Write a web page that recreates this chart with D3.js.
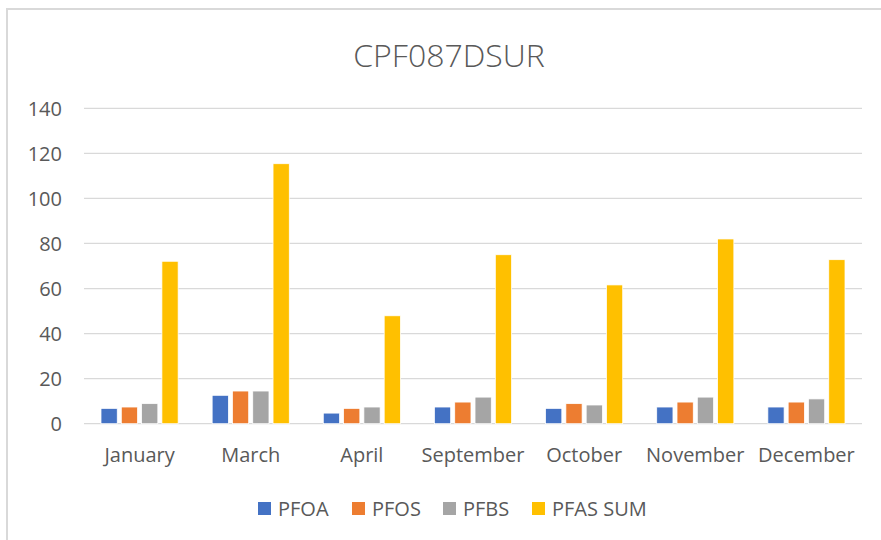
<!DOCTYPE html>
<html>
<head>
<meta charset="utf-8">
<script src="https://cdn.jsdelivr.net/npm/d3@7"></script>
<style>
  html, body { margin: 0; padding: 0; background: #fff; }
  svg { display: block; }
  text { font-family: "Open Sans", "Noto Sans", sans-serif; fill: #595959; }
</style>
</head>
<body>
<script>
const title = "CPF087DSUR";
const categories = ["January", "March", "April", "September", "October", "November", "December"];
const seriesNames = ["PFOA", "PFOS", "PFBS", "PFAS SUM"];
const PFOA = [6.8, 12.6, 4.7, 7.4, 6.8, 7.4, 7.4];
const PFOS = [7.4, 14.5, 6.8, 9.6, 8.9, 9.6, 9.6];
const PFBS = [8.9, 14.5, 7.4, 11.8, 8.3, 11.8, 11.0];
const PFAS_SUM = [72.1, 115.4, 47.9, 75.0, 61.6, 82.0, 72.8];
const yTicks = [0, 20, 40, 60, 80, 100, 120, 140];
const colors = ["#4472C4", "#ED7D31", "#A5A5A5", "#FFC000"];

const seriesValues = [PFOA, PFOS, PFBS, PFAS_SUM];
const W = 881, H = 540;
const plot = { left: 84, right: 862, top: 108.3, bottom: 423.7 };

const svg = d3.select("body").append("svg").attr("width", W).attr("height", H);

// chart border
svg.append("path")
  .attr("d", `M7,${H} L7,9 L${W},9`)
  .attr("fill", "none").attr("stroke", "#d9d9d9").attr("stroke-width", 2);

svg.append("text").attr("x", 449).attr("y", 67)
  .attr("text-anchor", "middle").attr("font-size", 32).attr("font-weight", 300)
  .text(title);

const x0 = d3.scaleBand().domain(categories).range([plot.left, plot.right])
  .paddingInner(0.306).paddingOuter(0.153);
const x1 = d3.scaleBand().domain(seriesNames).range([0, x0.bandwidth()]).paddingInner(0.2);
const y = d3.scaleLinear().domain([0, 140]).range([plot.bottom, plot.top]);

// grid
svg.append("g").selectAll("line").data(yTicks).join("line")
  .attr("x1", plot.left).attr("x2", plot.right)
  .attr("y1", d => y(d)).attr("y2", d => y(d))
  .attr("stroke", "#d9d9d9").attr("stroke-width", 1.3);

// y labels
svg.append("g").selectAll("text").data(yTicks).join("text")
  .attr("x", 62).attr("y", d => y(d))
  .attr("dy", "0.36em").attr("text-anchor", "end").attr("font-size", 20)
  .text(d => d);

// bars
const g = svg.append("g");
categories.forEach((c, i) => {
  seriesNames.forEach((s, j) => {
    const v = seriesValues[j][i];
    g.append("rect")
      .attr("x", x0(c) + x1(s))
      .attr("y", y(v))
      .attr("width", x1.bandwidth())
      .attr("height", y(0) - y(v))
      .attr("fill", colors[j])
      .attr("stroke", "#fff").attr("stroke-width", 0.75);
  });
});

// x labels
svg.append("g").selectAll("text").data(categories).join("text")
  .attr("x", d => x0(d) + x0.bandwidth() / 2).attr("y", 462)
  .attr("text-anchor", "middle").attr("font-size", 20)
  .text(d => d);

// legend
const legendX = [258, 352, 443, 532];
const lg = svg.append("g");
seriesNames.forEach((s, j) => {
  lg.append("rect").attr("x", legendX[j]).attr("y", 502).attr("width", 13).attr("height", 13)
    .attr("fill", colors[j]);
  lg.append("text").attr("x", legendX[j] + 20).attr("y", 516).attr("font-size", 20).text(s);
});
</script>
</body>
</html>
